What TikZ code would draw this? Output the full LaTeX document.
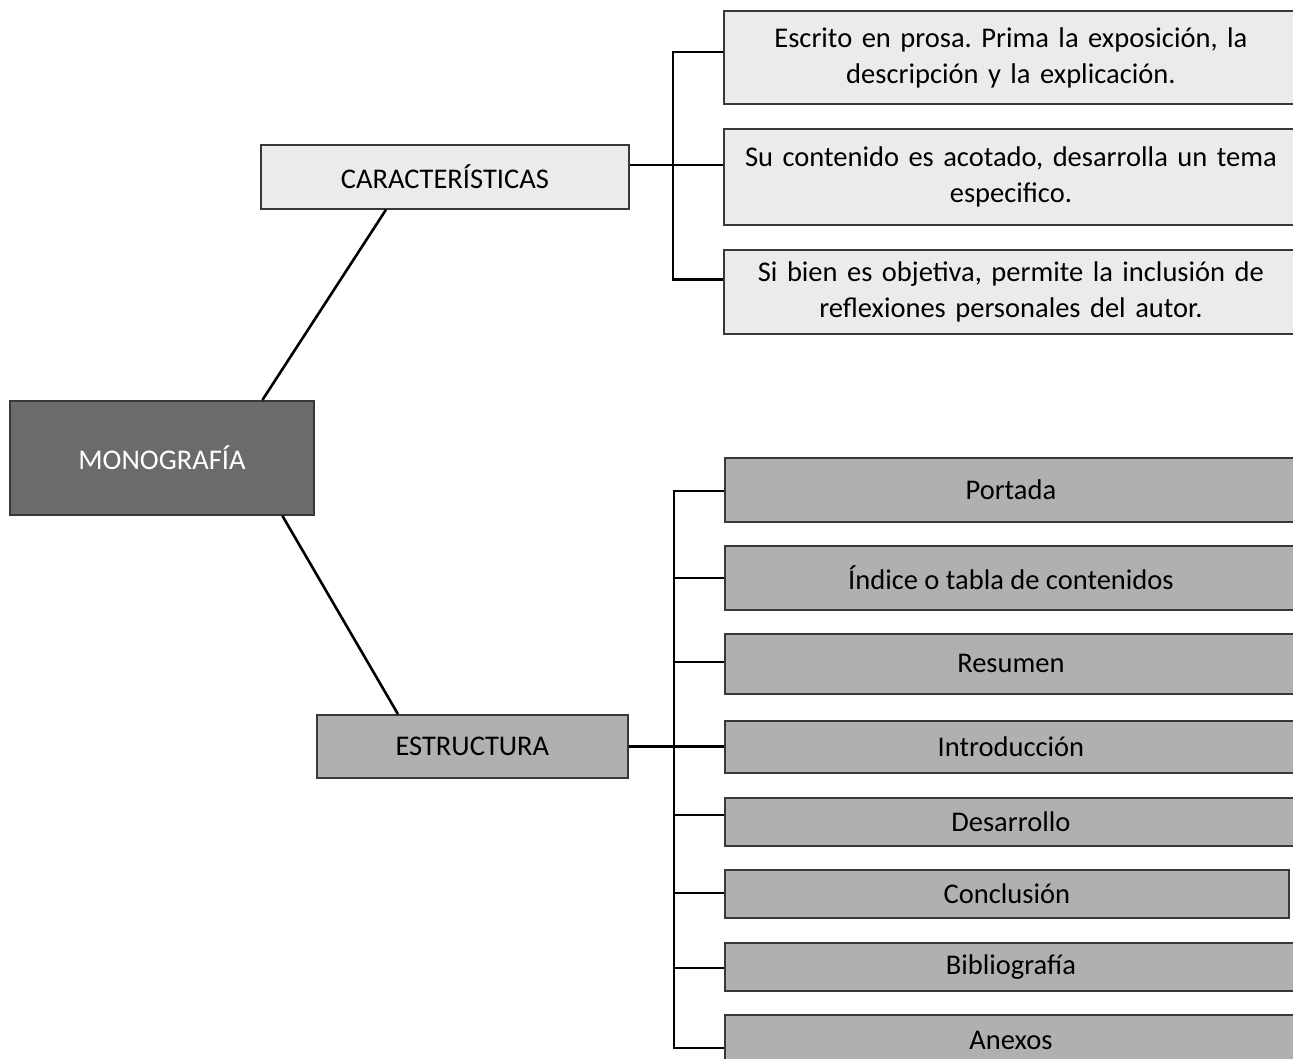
\documentclass[tikz,border=0pt]{standalone}
\usepackage{fontspec}
\setmainfont{Carlito}
\begin{document}
\frenchspacing
\begin{tikzpicture}[x=1pt,y=-1pt,
  every node/.style={font=\fontsize{28.5}{36}\selectfont, inner sep=0pt, align=center},
  basebox/.style={draw=black!78, line width=1.8pt, anchor=north west},
  lightbox/.style={basebox, fill=black!8},
  greybox/.style={basebox, fill=black!31},
  darkbox/.style={basebox, fill=black!58, text=white},
  conn/.style={draw=black, line width=2.6pt}
]
\useasboundingbox (0,0) rectangle (1293,1058);
\clip (0,0) rectangle (1293,1058);
\fill[white] (0,0) rectangle (1293,1058);

% main
\node[darkbox, minimum width=304, minimum height=114] (mono) at (9,400) {MONOGRAFÍA};
\node[lightbox, minimum width=368, minimum height=64] (car) at (260,144) {CARACTERÍSTICAS};
\node[greybox, minimum width=311, minimum height=63] (est) at (316,714) {ESTRUCTURA};

% characteristics
\node[lightbox, minimum width=574, minimum height=93, text width=570] (c1) at (723,10)
  {Escrito en prosa. Prima la exposición, la\\ descripción y la explicación.};
\node[lightbox, minimum width=574, minimum height=96, text width=570] (c2) at (723,128)
  {Su contenido es acotado, desarrolla un tema\\ especifico.};
\node[lightbox, minimum width=574, minimum height=84, text width=570] (c3) at (723,249)
  {Si bien es objetiva, permite la inclusión de\\ reflexiones personales del autor.};

% structure
\node[greybox, minimum width=572, minimum height=64] (s1) at (724,457) {Portada};
\node[greybox, minimum width=572, minimum height=64] (s2) at (724,545) {Índice o tabla de contenidos};
\node[greybox, minimum width=572, minimum height=60] (s3) at (724,633) {Resumen};
\node[greybox, minimum width=572, minimum height=52] (s4) at (724,720) {Introducción};
\node[greybox, minimum width=572, minimum height=48] (s5) at (724,797) {Desarrollo};
\node[greybox, minimum width=564, minimum height=48] (s6) at (724,869) {Conclusión};
\node[greybox, minimum width=572, minimum height=48] (s7) at (724,942) {Bibliografía};
\node[greybox, minimum width=572, minimum height=52] (s8) at (724,1014) {Anexos};

% diagonal connectors
\draw[conn] ([xshift=100.5pt]mono.north) -- ([xshift=-59pt]car.south);
\draw[conn] ([xshift=120.5pt]mono.south) -- ([xshift=-74.5pt]est.north);

% characteristics bracket
\coordinate (cb) at (673,0);
\draw[conn] ([yshift=12pt]car.east) -- ([yshift=12pt]car.east -| c2.west);
\draw[conn] ([yshift=5.5pt]c1.west) -- ([yshift=5.5pt]c1.west -| cb) -- ([yshift=12.5pt]c3.west -| cb) -- ([yshift=12.5pt]c3.west);

% structure bracket
\coordinate (sb) at (674,0);
\draw[conn] (est.east) -- (est.east -| s4.west);
\draw[conn] ([yshift=-1pt]s1.west) -- ([yshift=-1pt]s1.west -| sb) -- ([yshift=-7pt]s8.west -| sb) -- ([yshift=-7pt]s8.west);
\draw[conn] (s2.west -| sb) -- (s2.west);
\draw[conn] ([yshift=2pt]s3.west -| sb) -- ([yshift=2pt]s3.west);
\draw[conn] ([yshift=7pt]s5.west -| sb) -- ([yshift=7pt]s5.west);
\draw[conn] ([yshift=1pt]s6.west -| sb) -- ([yshift=1pt]s6.west);
\draw[conn] ([yshift=-1pt]s7.west -| sb) -- ([yshift=-1pt]s7.west);
\end{tikzpicture}
\end{document}
